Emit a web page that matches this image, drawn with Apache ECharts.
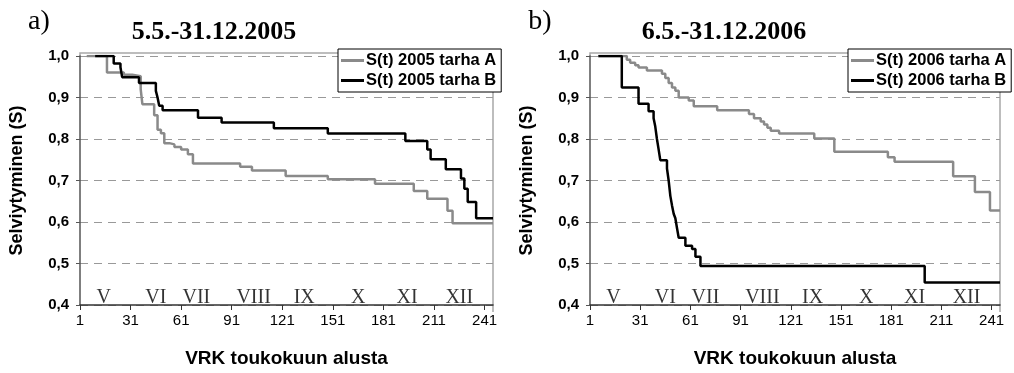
<!DOCTYPE html>
<html><head><meta charset="utf-8">
<script src="https://cdn.jsdelivr.net/npm/echarts@6/dist/echarts.min.js"></script>
<style>html,body{margin:0;padding:0;background:#fff}#c{width:1014px;height:373px}</style>
</head><body><div id="c"></div>
<script>
// ---- data ----
const dayCount = 246;                       // days 1..246 from start of May
const xTickLabels = ['1','31','61','91','121','151','181','211','241'];
const yMin = 0.4, yMax = 1.0, yStep = 0.1;
const months = ['V','VI','VII','VIII','IX','X','XI','XII'];
const monthDays = [15, 46, 70, 104, 134, 166, 195, 226];

const nameA05 = 'S(t) 2005 tarha A';
const nameB05 = 'S(t) 2005 tarha B';
const nameA06 = 'S(t) 2006 tarha A';
const nameB06 = 'S(t) 2006 tarha B';

const a2005 = [[5,1.0],[17,0.960],[27,0.955],[32,0.951],[37,0.92],[38,0.884],[45,0.857],[47,0.822],[49,0.814],[51,0.79],[54,0.787],[57,0.781],[61,0.775],[65,0.763],[68,0.741],[96,0.733],[103,0.724],[123,0.711],[148,0.703],[176,0.692],[199,0.675],[207,0.656],[219,0.627],[222,0.597],[246,0.596]];
const b2005 = [[10,1.0],[21,0.982],[25,0.973],[26,0.949],[36,0.935],[46,0.916],[47,0.90],[48,0.880],[50,0.869],[71,0.851],[85,0.840],[116,0.826],[148,0.813],[194,0.795],[207,0.775],[209,0.751],[218,0.727],[227,0.705],[229,0.68],[231,0.648],[236,0.609],[246,0.609]];
const a2006 = [[6,1.0],[23,0.991],[25,0.984],[28,0.978],[30,0.972],[35,0.965],[44,0.957],[46,0.947],[48,0.935],[50,0.924],[52,0.916],[54,0.900],[60,0.893],[63,0.879],[77,0.869],[96,0.860],[99,0.850],[103,0.842],[105,0.835],[107,0.827],[109,0.82],[114,0.813],[135,0.801],[147,0.769],[179,0.756],[183,0.745],[218,0.710],[231,0.672],[240,0.628],[246,0.628]];
const b2006 = [[6,1.0],[20,0.924],[30,0.885],[36,0.867],[39,0.85],[40,0.83],[41,0.80],[42,0.775],[43,0.749],[47,0.729],[48,0.70],[49,0.663],[50,0.64],[51,0.62],[52,0.609],[53,0.585],[54,0.562],[58,0.543],[62,0.535],[64,0.516],[67,0.494],[201,0.454],[246,0.454]];

const titles = ['5.5.-31.12.2005', '6.5.-31.12.2006'];
const panelTags = ['a)', 'b)'];
const xName = 'VRK toukokuun alusta';
const yName = 'Selviytyminen (S)';

// ---- build ----
const cats = [];
for (let d = 1; d <= dayCount; d++) cats.push(String(d));
const toPairs = arr => arr.map(p => [String(p[0]), p[1]]);

const SANS = 'Liberation Sans, Arial, sans-serif';
const SERIF = 'Liberation Serif, Times New Roman, serif';
const showTick = (i, v) => xTickLabels.indexOf(v) >= 0;

function xAxisCfg(gi) {
  return {
    type: 'category', gridIndex: gi, data: cats, boundaryGap: false,
    name: xName, nameLocation: 'middle', nameGap: 44,
    nameTextStyle: {fontFamily: SANS, fontWeight: 'bold', fontSize: 19, color: '#000'},
    axisLine: {lineStyle: {color: '#333', width: 1.5}},
    axisTick: {show: true, interval: showTick, length: 5, lineStyle: {color: '#333', width: 1}},
    axisLabel: {interval: showTick, fontFamily: SANS, fontSize: 15, color: '#000', margin: 8},
    splitLine: {show: false}
  };
}
function yAxisCfg(gi) {
  return {
    type: 'value', gridIndex: gi, min: yMin, max: yMax, interval: yStep,
    name: yName, nameLocation: 'middle', nameGap: 54,
    nameTextStyle: {fontFamily: SANS, fontWeight: 'bold', fontSize: 18, color: '#000'},
    axisLine: {show: true, lineStyle: {color: '#555', width: 1.5}},
    axisTick: {show: true, length: 4, lineStyle: {color: '#555'}},
    axisLabel: {fontFamily: SANS, fontWeight: 'bold', fontSize: 15, color: '#000', margin: 11,
      formatter: v => v.toFixed(1).replace('.', ',')},
    splitLine: {show: true, lineStyle: {color: '#999', type: [8, 6], width: 1}}
  };
}
function lineSeries(name, data, color, gi) {
  return {
    type: 'line', name: name, xAxisIndex: gi, yAxisIndex: gi, step: 'end',
    data: toPairs(data), symbol: 'none', silent: true,
    lineStyle: {color: color, width: 2.5}, itemStyle: {color: color}
  };
}
function monthSeries(gi) {
  return {
    type: 'scatter', xAxisIndex: gi, yAxisIndex: gi, symbolSize: 0, silent: true,
    data: monthDays.map((d, i) => ({name: months[i], value: [String(d), 0.418]})),
    label: {show: true, position: 'inside', formatter: '{b}', fontFamily: SERIF, fontSize: 20, color: '#000'}
  };
}
function legendCfg(names, left) {
  return {
    data: names, left: left, top: 49, orient: 'vertical',
    icon: 'rect', itemWidth: 23, itemHeight: 3, itemGap: 3, padding: [3, 5, 3, 3],
    borderColor: '#000', borderWidth: 1, backgroundColor: '#fff',
    selectedMode: false,
    textStyle: {fontFamily: SANS, fontWeight: 'bold', fontSize: 16.5, color: '#000', padding: [0,0,0,-3]}
  };
}
function frame(l, r) {
  return {type: 'polyline', z: 0, silent: true,
    shape: {points: [[l, 56], [l, 53], [r, 53], [r, 312]]},
    style: {stroke: '#a8a8a8', lineWidth: 1.5, fill: null}};
}
function txt(x, y, s, font) {
  return {type: 'text', x: x, y: y, silent: true,
    style: {text: s, font: font, fill: '#000', textAlign: 'center', textVerticalAlign: 'middle'}};
}

const chart = echarts.init(document.getElementById('c'), null, {renderer: 'canvas'});
chart.setOption({
  animation: false,
  backgroundColor: '#fff',
  grid: [
    {left: 80, top: 56, width: 413, height: 256},
    {left: 590, top: 56, width: 410, height: 256}
  ],
  xAxis: [xAxisCfg(0), xAxisCfg(1)],
  yAxis: [yAxisCfg(0), yAxisCfg(1)],
  legend: [legendCfg([nameA05, nameB05], 338), legendCfg([nameA06, nameB06], 848)],
  series: [
    lineSeries(nameA05, a2005, '#8a8a8a', 0),
    lineSeries(nameB05, b2005, '#000000', 0),
    lineSeries(nameA06, a2006, '#8a8a8a', 1),
    lineSeries(nameB06, b2006, '#000000', 1),
    monthSeries(0), monthSeries(1)
  ],
  graphic: {elements: [
    frame(80, 493), frame(590, 1000),
    txt(39, 22, panelTags[0], '28px ' + SERIF),
    txt(540, 22, panelTags[1], '28px ' + SERIF),
    txt(214, 32, titles[0], 'bold 26px ' + SERIF),
    txt(724, 32, titles[1], 'bold 26px ' + SERIF)
  ]}
});
</script></body></html>
